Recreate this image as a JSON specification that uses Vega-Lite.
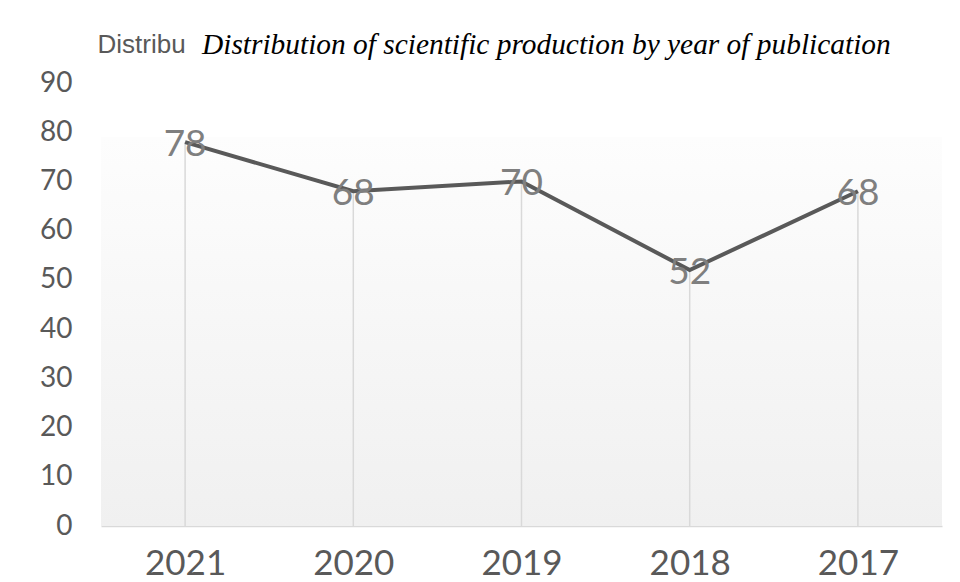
{
  "$schema": "https://vega.github.io/schema/vega-lite/v6.json",
  "autosize": {"type": "none"},
  "width": 841,
  "height": 443,
  "padding": {"left": 101, "top": 83, "right": 18, "bottom": 56},
  "background": "white",
  "config": {"view": {"stroke": null}},
  "title": {
    "text": "Distribution of scientific production by year of publication",
    "font": "Liberation Serif",
    "fontStyle": "italic",
    "fontWeight": "normal",
    "fontSize": 29.4,
    "color": "#000000",
    "anchor": "start",
    "frame": "group",
    "baseline": "alphabetic",
    "dx": 101,
    "offset": 0,
    "dy": 52
  },
  "data": {
    "values": [
      {"year": "2021", "count": 78},
      {"year": "2020", "count": 68},
      {"year": "2019", "count": 70},
      {"year": "2018", "count": 52},
      {"year": "2017", "count": 68}
    ]
  },
  "layer": [
    {
      "mark": {
        "type": "rect",
        "fill": {
          "gradient": "linear",
          "x1": 0, "y1": 0, "x2": 0, "y2": 1,
          "stops": [
            {"offset": 0, "color": "#fdfdfd"},
            {"offset": 1, "color": "#f0f0f0"}
          ]
        }
      },
      "encoding": {
        "y": {"datum": 79, "type": "quantitative", "scale": {"domain": [0, 90]}},
        "y2": {"datum": 0}
      }
    },
    {
      "mark": {"type": "rule", "color": "#d9d9d9", "strokeWidth": 1.5},
      "encoding": {
        "x": {"field": "year", "type": "ordinal", "sort": null},
        "y": {"field": "count", "type": "quantitative"},
        "y2": {"datum": 0}
      }
    },
    {
      "mark": {"type": "line", "color": "#595959", "strokeWidth": 4},
      "encoding": {
        "x": {
          "field": "year", "type": "ordinal", "sort": null,
          "scale": {"type": "point", "padding": 0.5},
          "axis": {
            "title": null,
            "ticks": false,
            "domainColor": "#d9d9d9",
            "domainWidth": 1.5,
            "labelFont": "Lato",
            "labelFontSize": 35,
            "labelColor": "#595959",
            "labelPadding": 37,
            "labelAngle": 0,
            "labelAlign": "center",
            "labelBaseline": "middle"
          }
        },
        "y": {
          "field": "count", "type": "quantitative",
          "scale": {"domain": [0, 90]},
          "axis": {
            "title": "Distribu",
            "titleAngle": 0,
            "titleAlign": "left",
            "titleBaseline": "alphabetic",
            "titleX": -4,
            "titleY": -31,
            "titleFont": "Liberation Sans",
            "titleFontSize": 26,
            "titleFontWeight": "normal",
            "titleColor": "#595959",
            "values": [0, 10, 20, 30, 40, 50, 60, 70, 80, 90],
            "grid": false,
            "ticks": false,
            "domain": false,
            "labelFont": "Lato",
            "labelFontSize": 28,
            "labelColor": "#595959",
            "labelPadding": 29
          }
        }
      }
    },
    {
      "mark": {"type": "text", "font": "Lato", "fontSize": 37, "color": "#7f7f7f", "align": "center", "baseline": "middle", "dy": 3},
      "encoding": {
        "x": {"field": "year", "type": "ordinal", "sort": null},
        "y": {"field": "count", "type": "quantitative"},
        "text": {"field": "count", "type": "quantitative"}
      }
    }
  ]
}
